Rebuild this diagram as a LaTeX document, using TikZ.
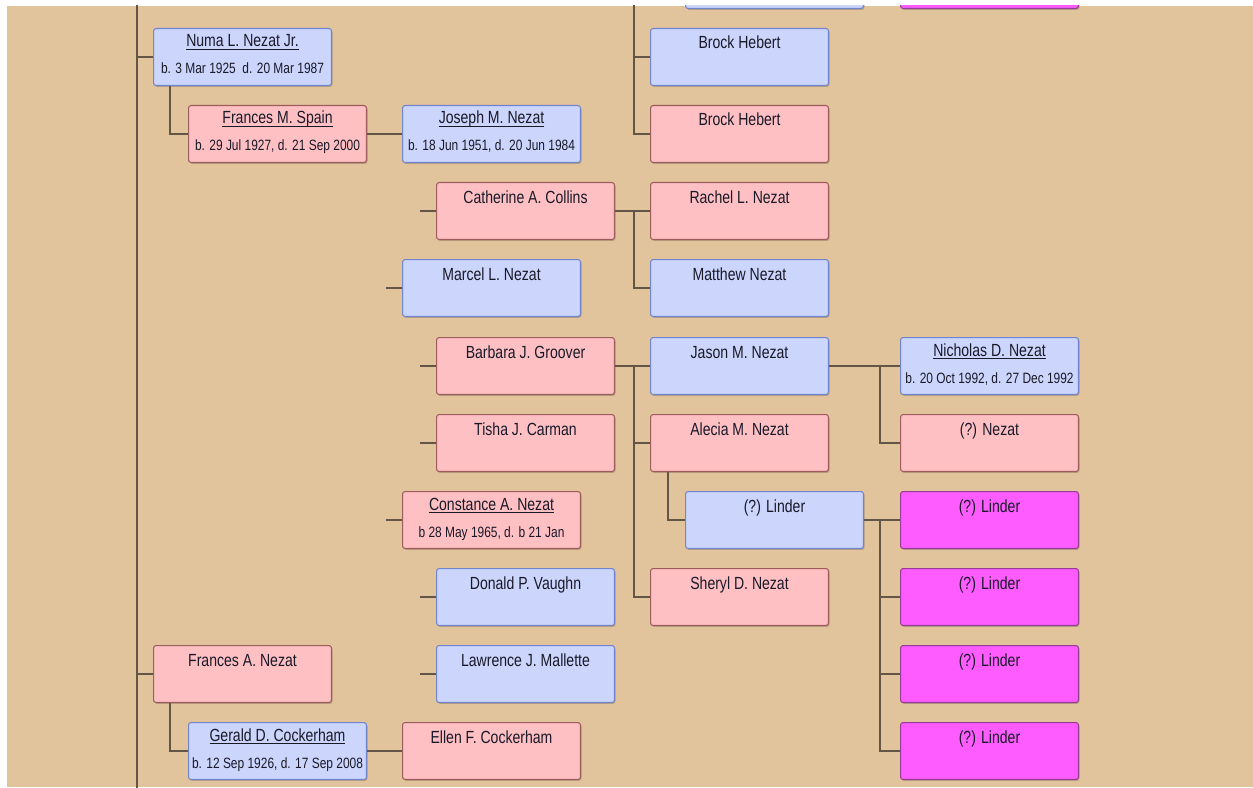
\documentclass[tikz,border=0pt]{standalone}
\usepackage{fontspec}
\setmainfont{Liberation Sans}[FakeStretch=0.8]
\usetikzlibrary{positioning,calc,shadows}

\definecolor{tanbg}{RGB}{225,196,155}
\definecolor{maleblue}{RGB}{204,214,252}
\definecolor{maleline}{RGB}{112,132,208}
\definecolor{femalepink}{RGB}{255,192,196}
\definecolor{femaleline}{RGB}{158,92,92}
\definecolor{unkfill}{RGB}{255,92,255}
\definecolor{unkline}{RGB}{150,60,150}
\definecolor{linkc}{RGB}{100,86,70}
\definecolor{txt}{RGB}{25,25,40}

\newcommand{\uname}[1]{\underline{\smash{#1}}}

\tikzset{
  box/.style={draw, rounded corners=1.5pt, anchor=north west, inner sep=0pt,
    minimum width=3.56cm, minimum height=1.14cm, line width=0.6pt,
    drop shadow={shadow xshift=0.6pt, shadow yshift=-0.8pt, fill=black, opacity=0.18}},
  male/.style={box, fill=maleblue, draw=maleline},
  female/.style={box, fill=femalepink, draw=femaleline},
  unknown/.style={box, fill=unkfill, draw=unkline},
  nm/.style={anchor=base, inner sep=0pt, text=txt, font=\fontsize{10}{12}\selectfont},
  dt/.style={anchor=base, inner sep=0pt, text=txt, font=\fontsize{8.5}{10}\selectfont},
  link/.style={draw=linkc, line width=0.7pt}
}

\begin{document}
\begin{tikzpicture}[x=0.02cm, y=-0.02cm]
  \useasboundingbox (0,0) rectangle (1253,787);
  \fill[white] (0,0) rectangle (1253,787);
  \fill[tanbg] (7,6) rectangle (1253,787);

  \begin{scope}
  \clip (7,6) rectangle (1253,787);

  % boxes, column by column
  \node[male] (numa) at (153,28) {};
  \node[female] (frances) at (153,645) {};
  \node[female] (spain) at (188,105) {};
  \node[male] (gerald) at (188,722) {};

  \node[male] (joseph) at (402,105) {};
  \node[male] (marcel) at (402,259) {};
  \node[female] (const) at (402,491) {};
  \node[female] (ellen) at (402,722) {};

  \node[female] (cath) at (436,182) {};
  \node[female] (barb) at (436,337) {};
  \node[female] (tisha) at (436,414) {};
  \node[male] (donald) at (436,568) {};
  \node[male] (lawrence) at (436,645) {};

  \node[male] (brockb) at (650,28) {};
  \node[female] (brockp) at (650,105) {};
  \node[female] (rachel) at (650,182) {};
  \node[male] (matthew) at (650,259) {};
  \node[male] (jason) at (650,337) {};
  \node[female] (alecia) at (650,414) {};
  \node[female] (sheryl) at (650,568) {};

  \node[male] (prevb) at (685,-49) {};
  \node[male] (linder) at (685,491) {};

  \node[unknown] (prevm) at (900,-49) {};
  \node[male] (nich) at (900,337) {};
  \node[female] (qnezat) at (900,414) {};
  \foreach \i/\y in {1/491,2/568,3/645,4/722}
    \node[unknown] (lind\i) at (900,\y) {};

  % texts
  \node[nm] (numa-n) at ($(numa.north)+(0,19)$) {\uname{Numa L. Nezat Jr.}};
  \node[dt] (numa-d) at ($(numa.north)+(0,46)$) {b. 3 Mar 1925\ \ d. 20 Mar 1987};
  \node[nm] (spain-n) at ($(spain.north)+(0,19)$) {\uname{Frances M. Spain}};
  \node[dt] (spain-d) at ($(spain.north)+(0,46)$) {b. 29 Jul 1927, d. 21 Sep 2000};
  \node[nm] (joseph-n) at ($(joseph.north)+(0,19)$) {\uname{Joseph M. Nezat}};
  \node[dt] (joseph-d) at ($(joseph.north)+(0,46)$) {b. 18 Jun 1951, d. 20 Jun 1984};
  \node[nm] (nich-n) at ($(nich.north)+(0,19)$) {\uname{Nicholas D. Nezat}};
  \node[dt] (nich-d) at ($(nich.north)+(0,46)$) {b. 20 Oct 1992, d. 27 Dec 1992};
  \node[nm] (const-n) at ($(const.north)+(0,19)$) {\uname{Constance A. Nezat}};
  \node[dt] (const-d) at ($(const.north)+(0,46)$) {b 28 May 1965, d. b 21 Jan};
  \node[nm] (gerald-n) at ($(gerald.north)+(0,19)$) {\uname{Gerald D. Cockerham}};
  \node[dt] (gerald-d) at ($(gerald.north)+(0,46)$) {b. 12 Sep 1926, d. 17 Sep 2008};

  \node[nm] (brockb-n) at ($(brockb.north)+(0,21)$) {Brock Hebert};
  \node[nm] (brockp-n) at ($(brockp.north)+(0,21)$) {Brock Hebert};
  \node[nm] (cath-n) at ($(cath.north)+(0,21)$) {Catherine A. Collins};
  \node[nm] (rachel-n) at ($(rachel.north)+(0,21)$) {Rachel L. Nezat};
  \node[nm] (marcel-n) at ($(marcel.north)+(0,21)$) {Marcel L. Nezat};
  \node[nm] (matthew-n) at ($(matthew.north)+(0,21)$) {Matthew Nezat};
  \node[nm] (barb-n) at ($(barb.north)+(0,21)$) {Barbara J. Groover};
  \node[nm] (jason-n) at ($(jason.north)+(0,21)$) {Jason M. Nezat};
  \node[nm] (tisha-n) at ($(tisha.north)+(0,21)$) {Tisha J. Carman};
  \node[nm] (alecia-n) at ($(alecia.north)+(0,21)$) {Alecia M. Nezat};
  \node[nm] (qnezat-n) at ($(qnezat.north)+(0,21)$) {(?) Nezat};
  \node[nm] (linder-n) at ($(linder.north)+(0,21)$) {(?) Linder};
  \node[nm] (donald-n) at ($(donald.north)+(0,21)$) {Donald P. Vaughn};
  \node[nm] (sheryl-n) at ($(sheryl.north)+(0,21)$) {Sheryl D. Nezat};
  \node[nm] (frances-n) at ($(frances.north)+(0,21)$) {Frances A. Nezat};
  \node[nm] (lawrence-n) at ($(lawrence.north)+(0,21)$) {Lawrence J. Mallette};
  \node[nm] (ellen-n) at ($(ellen.north)+(0,21)$) {Ellen F. Cockerham};
  \foreach \i in {1,...,4}
    \node[nm] (lind\i-n) at ($(lind\i.north)+(0,21)$) {(?) Linder};

  % connectors
  \coordinate (trunktop) at (137,0);
  \coordinate (trunkbot) at (137,800);
  \draw[link] (trunktop) -- (trunkbot);
  \draw[link] (numa.west) -- (numa.west -| trunktop);
  \draw[link] (frances.west) -- (frances.west -| trunktop);
  \draw[link] ($(numa.south west)+(17,0)$) |- (spain.west);
  \draw[link] ($(frances.south west)+(17,0)$) |- (gerald.west);
  \draw[link] (spain.east) -- (joseph.west);
  \draw[link] (gerald.east) -- (ellen.west);

  \coordinate (brocktop) at (634,0);
  \draw[link] (brocktop) |- (brockp.west);
  \draw[link] (brockb.west) -- (brockb.west -| brocktop);

  \foreach \n in {cath,barb,tisha,donald,lawrence,marcel,const}
    \draw[link] (\n.west) -- ++(-16,0);

  \draw[link] (cath.east) -- (rachel.west);
  \draw[link] ($(rachel.west)+(-16,0)$) |- (matthew.west);
  \draw[link] (barb.east) -- (jason.west);
  \draw[link] ($(jason.west)+(-16,0)$) |- (sheryl.west);
  \draw[link] (alecia.west) -- ++(-16,0);
  \draw[link] ($(alecia.south west)+(18,0)$) |- (linder.west);

  \draw[link] (jason.east) -- (nich.west);
  \draw[link] ($(nich.west)+(-20,0)$) |- (qnezat.west);
  \draw[link] (linder.east) -- (lind1.west);
  \draw[link] ($(lind1.west)+(-20,0)$) |- (lind4.west);
  \foreach \n in {lind2,lind3}
    \draw[link] (\n.west) -- ++(-20,0);
  \end{scope}
\end{tikzpicture}
\end{document}
